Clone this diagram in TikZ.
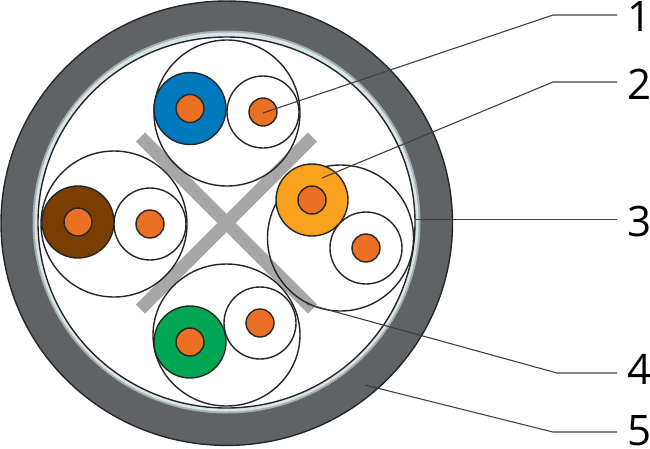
\documentclass[tikz,border=0pt]{standalone}
\usepackage{fontspec}
\setmainfont{Open Sans}
\definecolor{sheath}{HTML}{606366}
\definecolor{shieldgray}{HTML}{A9B0B2}
\definecolor{shieldlight}{HTML}{D9E6E8}
\definecolor{crossgray}{HTML}{A7A7A7}
\definecolor{core}{HTML}{EB7023}
\definecolor{pairblue}{HTML}{0079BF}
\definecolor{pairbrown}{HTML}{7A3E00}
\definecolor{pairyellow}{HTML}{FAA21F}
\definecolor{pairgreen}{HTML}{00A651}
\tikzset{
  outline/.style={draw=black!85, line width=1.4pt},
  leader/.style={draw=black!75, line width=1.1pt},
  lbl/.style={font=\fontsize{42}{42}\selectfont, inner sep=0pt, anchor=center},
}
\begin{document}
\begin{tikzpicture}[x=1pt, y=-1pt]
\useasboundingbox (0,0) rectangle (650,448);
% jacket and shield
\draw[outline, fill=sheath] (226.75,223.2) ellipse (225.75 and 222.2);
\fill[shieldgray] (226.5,222) ellipse (194 and 191.5);
\fill[shieldlight] (226.5,222) ellipse (192 and 189.5);
\draw[outline, fill=white] (226.5,222.5) ellipse (188.5 and 185.5);
% spline
\draw[crossgray, line width=13pt] (140.5,137) -- (312.5,309);
\draw[crossgray, line width=13pt] (312.5,137) -- (140.5,309);
% top pair
\draw[outline] (227,113) circle (73);
\draw[outline, fill=pairblue] (190,108.5) circle (36);
\draw[outline, fill=core] (190,108.5) circle (14);
\draw[outline, fill=white] (263,112) circle (36);
\draw[outline, fill=core] (263,112) circle (14);
% left pair
\draw[outline] (114,224) circle (73);
\draw[outline, fill=pairbrown] (78,222) circle (36);
\draw[outline, fill=core] (78,222) circle (14);
\draw[outline, fill=white] (150,224) circle (36);
\draw[outline, fill=core] (150,224) circle (14);
% right pair
\draw[outline] (340.5,238) circle (73);
\draw[outline, fill=pairyellow] (312,200) circle (36);
\draw[outline, fill=core] (312,200) circle (14);
\draw[outline, fill=white] (366,248) circle (36);
\draw[outline, fill=core] (366,248) circle (14);
% bottom pair
\draw[outline] (226.5,335) ellipse (73.5 and 71);
\draw[outline, fill=pairgreen] (190,342) circle (36);
\draw[outline, fill=core] (190,342) circle (14);
\draw[outline, fill=white] (260,323) circle (36);
\draw[outline, fill=core] (260,323) circle (14);
% labels
\node[lbl] (one) at (639,17) {1};
\node[lbl] (two) at (639,84.5) {2};
\node[lbl] (three) at (639,221) {3};
\node[lbl] (four) at (639,369.5) {4};
\node[lbl] (five) at (639,431) {5};
\coordinate (conductor) at (263,113);
\coordinate (pair) at (322,178);
\coordinate (shield) at (415,219.4);
\coordinate (spline) at (307,304);
\coordinate (jacket) at (365,385);
\draw[leader] (conductor) -- (553,15) -- (617,15);
\draw[leader] (pair) -- (553,82) -- (617,82);
\draw[leader] (shield) -- (617,219.4);
\draw[leader] (spline) -- (557,373) -- (617,373);
\draw[leader] (jacket) -- (553,432) -- (617,432);
\end{tikzpicture}
\end{document}
